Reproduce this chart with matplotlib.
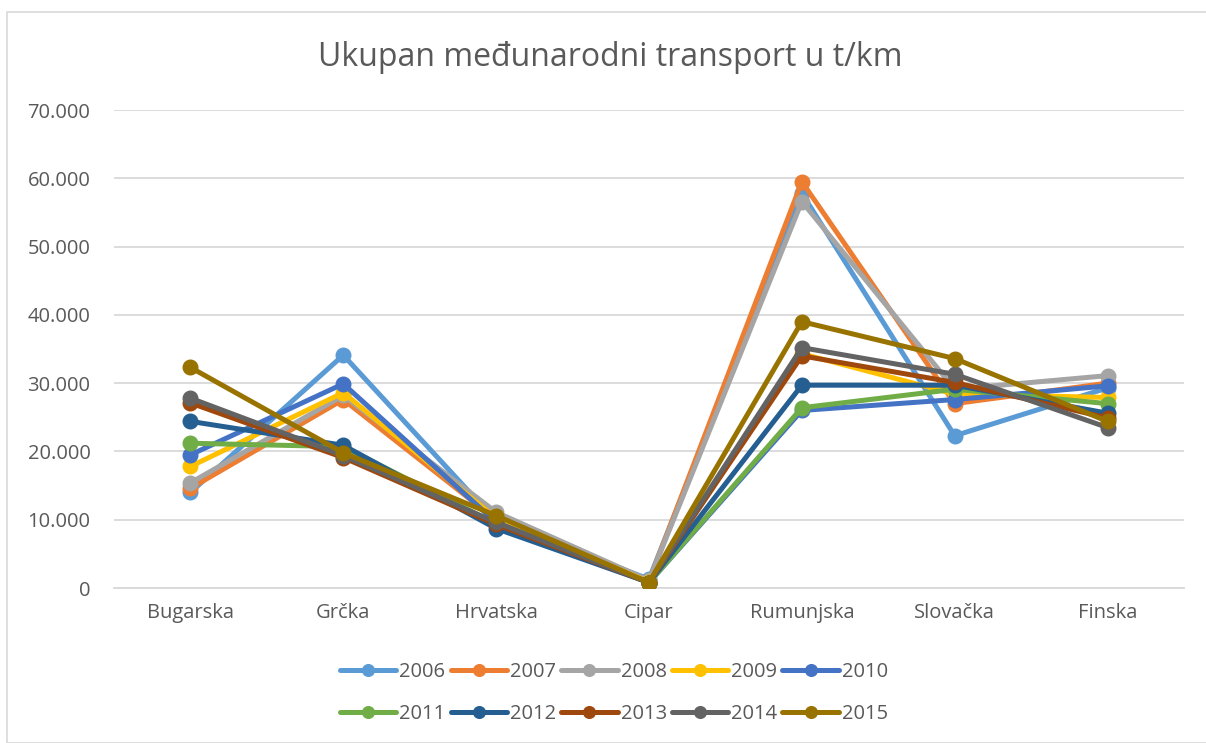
import numpy as np
import matplotlib.pyplot as plt
from matplotlib.patches import Rectangle
from matplotlib.ticker import FuncFormatter

countries = ['Bugarska', 'Grčka', 'Hrvatska', 'Cipar', 'Rumunjska', 'Slovačka', 'Finska']
years = ['2006', '2007', '2008', '2009', '2010', '2011', '2012', '2013', '2014', '2015']

# values in t/km
y2006 = [14000, 34100, 9800, 1300, 57800, 22300, 29300]
y2007 = [14600, 27600, 10000, 1000, 59500, 27000, 30000]
y2008 = [15400, 28200, 11100, 1100, 56600, 29100, 31100]
y2009 = [17800, 28600, 10200, 900, 34300, 28400, 27900]
y2010 = [19500, 29900, 9600, 800, 26000, 27600, 29600]
y2011 = [21200, 20700, 9400, 800, 26400, 29100, 27000]
y2012 = [24400, 20900, 8700, 800, 29700, 29700, 25600]
y2013 = [27100, 19100, 9300, 800, 34000, 30100, 24900]
y2014 = [27800, 19400, 9600, 800, 35200, 31300, 23500]
y2015 = [32300, 19800, 10600, 800, 39000, 33600, 24400]
series = [y2006, y2007, y2008, y2009, y2010, y2011, y2012, y2013, y2014, y2015]

colors = ['#5B9BD5', '#ED7D31', '#A5A5A5', '#FFC000', '#4472C4',
          '#70AD47', '#255E91', '#9E480E', '#636363', '#997300']
txt = '#595959'

plt.rcParams['font.family'] = ['Open Sans', 'DejaVu Sans']

fig = plt.figure(figsize=(12.06, 7.43), dpi=100)
ax = fig.add_axes([114/1206, 1-588/743, 1070/1206, 478/743])

# chart border
fig.patches.append(Rectangle((7/1206, 0), 1.2, 1-12/743, transform=fig.transFigure,
                             fill=False, edgecolor='#D9D9D9', linewidth=1.2))

x = np.arange(len(countries))
handles = []
for i in range(len(years)):
    h, = ax.plot(x, series[i], color=colors[i], lw=3.6, marker='o', ms=10.5,
                 solid_capstyle='round', label=years[i], zorder=3+i)
    handles.append(h)

ax.set_xlim(-0.5, 6.5)
ax.set_ylim(0, 70000)
ax.set_yticks(np.arange(0, 70001, 10000))
ax.yaxis.set_major_formatter(FuncFormatter(lambda v, p: '{:,.0f}'.format(v).replace(',', '.')))
ax.set_xticks(x)
ax.set_xticklabels(countries)
ax.grid(axis='y', color='#D9D9D9', lw=1.3)
ax.set_axisbelow(True)
for s in ['top', 'right', 'left']:
    ax.spines[s].set_visible(False)
ax.spines['bottom'].set_color('#D9D9D9')
ax.spines['bottom'].set_linewidth(1.3)
ax.tick_params(length=0, labelsize=14.5, colors=txt)
ax.tick_params(axis='y', pad=17)
ax.tick_params(axis='x', pad=11)

fig.text(610/1206, 1-57/743, 'Ukupan međunarodni transport u t/km', ha='center', va='center',
         fontsize=23, color=txt)

# legend filled row by row like Excel
order = [0, 5, 1, 6, 2, 7, 3, 8, 4, 9]
leg = fig.legend(handles=[handles[k] for k in order], loc='center',
                 bbox_to_anchor=(614/1206, 1-693/743), ncol=5,
                 frameon=False, fontsize=14.5, handlelength=2.8, handletextpad=0.15,
                 columnspacing=0.25, labelspacing=1.1, markerscale=0.8)
for t in leg.get_texts():
    t.set_color(txt)

plt.savefig('out.png', dpi=100)
